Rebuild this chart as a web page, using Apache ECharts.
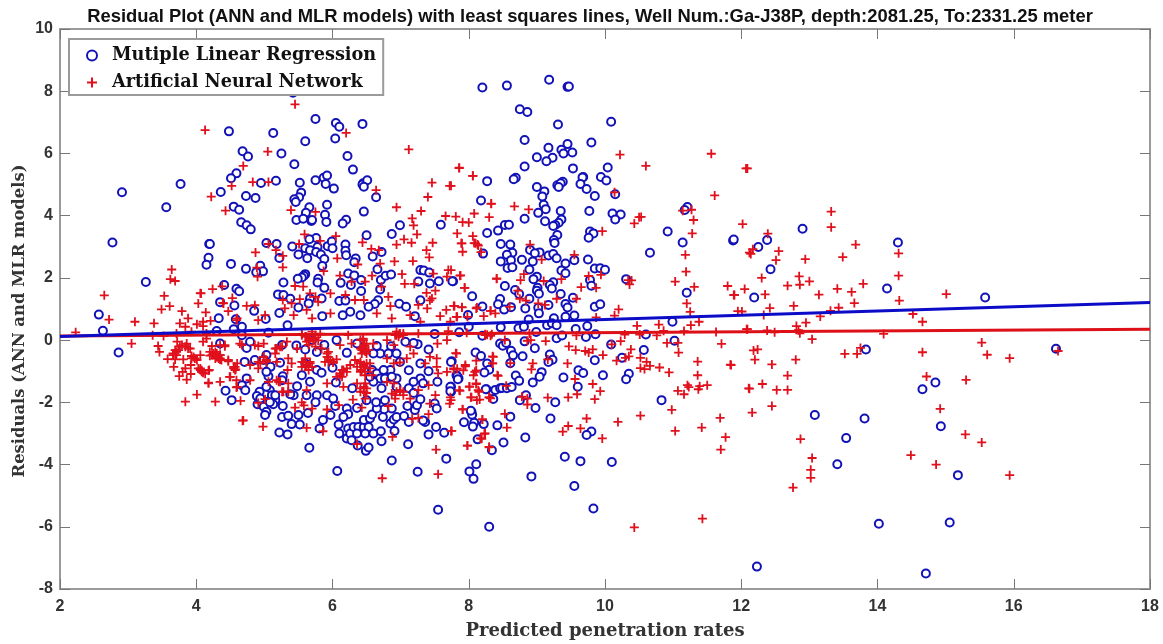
<!DOCTYPE html>
<html><head><meta charset="utf-8">
<style>html,body{margin:0;padding:0;background:#fff}#c{width:1163px;height:644px}</style>
<script src="https://cdn.jsdelivr.net/npm/echarts@6/dist/echarts.min.js"></script>
</head><body><div id="c"></div>
<script>
const chartTitle = 'Residual Plot (ANN and MLR models) with least squares lines, Well Num.:Ga-J38P, depth:2081.25, To:2331.25 meter';
const xAxisName = 'Predicted penetration rates';
const yAxisName = 'Residuals (ANN and MLR models)';
const mlrName = 'Mutiple Linear Regression';
const annName = 'Artificial Neural Network';
const mlrFit = [[2,0.12],[18,1.21]];
const annFit = [[2,0.13],[18,0.35]];
const mlrPoints = [
[5.42,7.95],[8.20,8.12],[8.56,8.18],[9.18,8.37],[9.45,8.14],[9.47,8.15],[8.75,7.42],[8.86,7.33],[9.31,6.93],[10.09,7.02],[8.82,6.43],[9.80,6.35],[9.17,6.18],[9.45,6.30],[9.36,6.12],[9.39,6.00],[9.52,6.03],[9.00,5.88],[9.23,5.86],[9.14,5.75],[8.82,5.58],[9.53,5.52],[10.04,5.55],[9.68,5.24],[9.67,5.23],[9.94,5.24],[10.02,5.13],[8.27,5.11],[8.69,5.22],[8.66,5.17],[9.38,5.09],[9.30,4.98],[9.35,5.04],[9.32,4.92],[9.64,5.02],[9.73,4.86],[9.00,4.92],[9.11,4.78],[9.08,4.62],[9.85,4.63],[10.15,4.69],[8.18,4.49],[9.10,4.35],[9.13,4.21],[9.02,4.09],[9.35,4.15],[9.77,4.15],[10.11,4.07],[10.23,4.04],[10.15,3.88],[8.82,3.90],[9.12,3.82],[9.36,3.88],[9.32,3.77],[9.27,3.70],[9.24,3.67],[8.53,3.70],[8.59,3.71],[8.43,3.52],[8.27,3.44],[9.30,3.38],[9.78,3.49],[9.83,3.43],[9.76,3.29],[9.25,3.22],[9.26,3.12],[10.92,3.49],[11.14,3.14],[11.21,4.28],[11.17,4.18],[11.88,3.20],[11.89,3.23],[10.66,2.81],[8.47,3.09],[8.61,3.07],[8.90,2.90],[8.64,2.81],[8.56,2.74],[9.04,2.82],[8.97,2.79],[8.21,2.78],[9.17,2.72],[9.24,2.77],[9.29,2.63],[8.47,2.53],[8.62,2.57],[8.78,2.58],[8.94,2.53],[9.55,2.57],[9.75,2.59],[9.42,2.46],[8.57,2.32],[8.64,2.34],[8.89,2.27],[9.85,2.30],[9.93,2.31],[10.00,2.26],[9.36,2.24],[9.42,2.15],[9.00,2.04],[8.95,1.96],[7.77,1.89],[9.78,1.93],[9.80,1.75],[10.31,1.96],[8.53,1.74],[9.24,1.86],[9.19,1.77],[9.22,1.66],[9.01,1.68],[9.00,1.59],[9.03,1.49],[8.68,1.61],[8.74,1.48],[8.05,1.41],[11.20,1.52],[9.35,1.48],[9.53,1.36],[8.89,1.33],[8.46,1.32],[8.43,1.15],[8.52,0.98],[9.42,1.16],[9.45,1.05],[9.85,1.07],[9.93,1.15],[8.20,1.08],[8.62,1.06],[8.83,1.02],[9.17,1.13],[9.02,1.04],[9.03,0.86],[7.99,0.81],[9.55,0.79],[9.42,0.75],[9.25,0.70],[8.88,0.66],
[7.86,0.25],[8.20,0.14],[8.47,0.41],[8.73,0.38],[8.81,0.43],[8.99,0.26],[9.15,0.48],[9.22,0.54],[9.29,0.48],[9.57,0.36],[9.74,0.45],[9.29,0.06],[9.37,0.15],[9.72,0.10],[9.86,0.19],[10.60,0.18],[11.02,-0.02],[10.99,0.59],[10.09,-0.14],[8.46,-0.11],[8.50,-0.18],[8.55,-0.09],[8.62,-0.34],[8.65,-0.49],[8.82,-0.04],[8.97,-0.26],[8.79,-0.52],[8.10,-0.40],[8.18,-0.51],[9.19,-0.46],[9.23,-0.63],[9.17,-0.70],[10.57,-0.32],[10.25,-0.57],[9.85,-0.65],[8.61,-0.74],[8.27,-0.75],[8.30,-0.95],[8.23,-1.04],[7.75,-0.68],[9.61,-0.97],[9.68,-1.06],[9.07,-1.03],[9.04,-1.18],[8.69,-1.14],[8.74,-1.31],[8.94,-1.36],[9.39,-1.20],[9.97,-1.13],[10.35,-1.08],[10.31,-1.26],[7.82,-1.13],[7.85,-1.23],[9.60,-1.50],[7.74,-1.50],[7.74,-1.66],[8.26,-1.58],[8.39,-1.60],[8.46,-1.55],[8.49,-1.54],[8.56,-1.55],[8.63,-1.51],[8.36,-1.89],[8.84,-1.77],[8.75,-1.93],[9.27,-2.00],[10.83,-1.93],[8.98,-2.18],[8.04,-2.30],[8.05,-2.40],[8.61,-2.46],[9.20,-2.52],[7.93,-2.64],[8.08,-2.66],[8.06,-2.78],[8.22,-2.70],[8.42,-2.74],[9.80,-2.94],[9.73,-3.05],[8.83,-3.13],[8.13,-3.19],[8.51,-3.29],[8.34,-3.54],[9.41,-3.75],[9.64,-3.89],[10.10,-3.92],[8.11,-3.99],[8.01,-4.22],[8.07,-4.46],[8.92,-4.38],[9.55,-4.69],[9.83,-5.41],[8.30,-6.00],
[12.25,2.99],[12.38,3.22],[12.90,3.58],[12.43,2.28],[12.19,1.37],[14.30,3.14],[14.14,1.66],[15.58,1.37],[13.83,-0.30],[13.08,-2.41],[13.81,-2.52],[13.54,-3.15],[13.41,-3.99],[14.02,-5.90],[15.06,-5.86],[12.23,-7.28],[14.71,-7.50],[14.66,-1.58],[14.85,-1.36],[14.93,-2.77],[15.18,-4.34],[16.62,-0.28],
[5.75,7.11],[6.05,6.98],[6.10,6.86],[6.44,6.95],[6.04,6.48],[5.60,6.39],[4.48,6.71],[5.13,6.66],[5.25,6.00],[4.68,6.07],[4.76,5.90],[6.22,5.92],[5.44,5.65],[6.30,5.48],[4.59,5.36],[4.51,5.20],[5.17,5.12],[4.95,5.05],[4.36,4.76],[5.52,5.06],[5.75,5.14],[5.87,5.22],[5.92,5.29],[5.90,5.02],[6.02,4.87],[6.45,5.04],[6.44,5.00],[6.51,5.14],[6.46,4.93],[6.64,4.59],[5.54,4.74],[5.51,4.59],[5.44,4.53],[5.46,4.44],[4.73,4.63],[4.87,4.57],[4.55,4.29],[4.63,4.19],[5.66,4.27],[5.92,4.35],[5.61,4.09],[6.46,4.13],[5.89,4.03],[5.69,3.83],[5.70,3.86],[5.47,3.86],[5.57,3.90],[5.91,3.80],[6.20,3.87],[6.15,3.75],[4.66,3.79],[4.74,3.69],[4.80,3.56],[6.99,3.69],[7.59,3.71],[6.87,3.41],[6.50,3.37],[5.76,3.28],[5.66,3.24],[5.03,3.12],[5.18,3.09],[4.19,3.09],[4.20,3.09],[5.41,3.01],[5.60,2.95],[5.78,2.99],[5.93,3.02],[5.99,3.17],[6.00,2.95],[6.19,3.07],[6.19,2.87],[6.20,2.73],[6.34,2.62],[6.32,2.50],[5.67,2.89],[5.76,2.83],[5.83,2.75],[5.50,2.75],[5.63,2.63],[5.88,2.61],[5.22,2.64],[6.59,2.69],[6.72,2.83],[4.18,2.65],[4.15,2.42],[4.51,2.45],[4.73,2.29],[4.94,2.39],[4.98,2.21],[4.88,2.18],[5.85,2.38],[6.66,2.28],[7.29,2.25],[7.34,2.24],[7.42,2.17],[6.23,2.14],[6.32,2.08],[6.42,1.93],[6.71,1.93],[6.78,2.07],[6.86,2.11],[5.60,2.12],[5.58,2.07],[5.55,2.01],[5.49,1.97],[5.79,1.97],[5.78,1.85],[6.12,1.84],[6.27,1.77],[5.88,1.68],[5.28,1.85],[7.26,1.88],[7.43,1.82],[7.56,1.89],[7.76,1.89],[6.70,1.63],[6.42,1.58],[4.41,1.77],[4.59,1.65],[4.63,1.57],[5.20,1.47],[5.28,1.45],[5.38,1.33],[5.67,1.34],[5.84,1.34],[4.35,1.22],[4.56,1.11],[4.85,0.94],[5.22,0.87],[5.50,1.05],[5.65,1.18],[6.10,1.26],[6.19,1.27],[6.67,1.28],[6.62,1.16],[6.53,1.07],[6.98,1.17],[7.08,1.07],[7.29,1.28],[7.21,0.77],[6.41,0.80],[6.26,0.91],[6.15,0.80],[5.85,0.77],[4.33,0.70],[4.58,0.67],[5.02,0.68],[2.91,4.75],[3.77,5.02],[3.56,4.27],[2.77,3.14],[3.26,1.87],[2.57,0.82],[2.63,0.30],[2.86,-0.40],
[4.30,0.29],[4.55,0.35],[4.67,0.43],[5.06,0.24],[5.34,0.48],[4.67,0.16],[7.50,0.20],[8.00,0.43],[4.35,-0.11],[4.74,-0.25],[4.79,-0.05],[5.26,-0.16],[5.47,-0.17],[5.60,-0.30],[5.77,-0.38],[5.88,-0.16],[5.70,0.00],[6.21,-0.41],[6.06,0.00],[6.36,-0.11],[6.65,-0.19],[6.86,-0.20],[7.07,-0.05],[7.25,-0.13],[7.19,-0.09],[7.41,-0.30],[5.03,-0.48],[4.99,-0.64],[4.71,-0.70],[4.86,-0.64],[5.23,-0.73],[5.60,-0.75],[5.77,-0.96],[5.84,-1.05],[6.00,-0.89],[6.70,-0.43],[6.60,-0.43],[6.82,-0.43],[6.94,-0.43],[6.99,-0.70],[7.12,-0.97],[7.29,-0.75],[7.41,-1.00],[7.74,-0.70],[5.09,-0.86],[5.06,-1.16],[5.03,-1.02],[4.74,-1.23],[4.67,-1.45],[4.72,-1.61],[4.43,-1.63],[4.52,-1.93],[5.27,-1.16],[5.26,-1.29],[5.55,-1.13],[5.67,-1.34],[5.48,-1.48],[5.43,-1.77],[5.38,-1.74],[5.08,-1.61],[5.01,-1.74],[4.93,-1.66],[4.89,-1.80],[4.90,-2.06],[4.99,-2.14],[5.16,-1.93],[5.13,-2.06],[5.27,-2.12],[5.03,-2.30],[5.01,-2.41],[5.26,-2.47],[5.35,-2.43],[5.50,-2.41],[5.64,-2.34],[5.40,-2.70],[5.52,-2.71],[5.22,-2.97],[5.34,-3.03],[5.66,-3.46],[5.81,-2.84],[5.86,-2.57],[5.97,-2.41],[6.04,-2.12],[5.92,-1.77],[5.77,-1.77],[5.75,-2.00],[5.62,-1.77],[6.01,-1.88],[6.29,-1.55],[6.05,-1.36],[6.21,-2.20],[6.36,-2.18],[6.23,-2.38],[6.16,-2.47],[6.09,-2.71],[6.10,-3.00],[6.23,-2.84],[6.21,-3.16],[6.26,-3.00],[6.31,-2.79],[6.38,-2.79],[6.46,-2.79],[6.53,-2.79],[6.48,-3.00],[6.36,-3.00],[6.28,-3.22],[6.37,-3.39],[6.49,-3.56],[6.53,-3.45],[6.60,-3.00],[6.71,-2.93],[6.72,-3.25],[6.91,-2.92],[6.85,-2.68],[6.46,-2.57],[6.55,-2.52],[6.58,-2.39],[6.74,-2.47],[6.90,-2.55],[6.94,-2.47],[7.12,-2.63],[7.05,-2.44],[7.21,-2.25],[7.10,-2.12],[7.24,-2.09],[7.29,-1.90],[6.87,-2.20],[6.76,-2.22],[6.65,-2.20],[6.77,-1.93],[6.64,-2.00],[6.50,-1.93],[6.72,-1.55],[6.94,-1.50],[7.12,-1.55],[7.19,-1.70],[6.58,-0.96],[6.75,-1.13],[6.85,-0.96],[6.94,-1.23],[7.29,-1.23],[7.33,-1.39],[7.19,-1.34],[7.36,-2.63],[7.33,-2.58],[7.52,-2.79],[7.41,-3.03],[7.64,-2.98],[7.11,-3.35],[6.87,-3.87],[7.25,-4.23],[6.07,-4.21],[7.67,-3.81],[7.54,-1.34],[7.73,-1.50],[7.73,-1.64],[7.50,-2.04],[7.53,-2.20],[7.83,-1.16],[7.84,-1.26],[8.03,-2.27],[8.25,-1.58],[7.55,-5.45],
[6.65,-1.07],[6.75,-0.96],[6.70,-1.23],[6.77,-1.23],[6.87,-1.18],[6.60,-1.34],[6.55,-1.18],[5.03,-1.50],[5.11,-1.77],[5.16,-1.77],[5.08,-2.00],[4.94,-1.88]
];
const annPoints = [
[10.22,5.96],[10.60,5.60],[11.56,5.99],[12.07,5.52],[12.09,5.52],[11.61,4.65],[7.86,5.54],[8.06,5.28],[7.74,4.96],[8.33,4.38],[8.67,4.30],[8.88,4.20],[7.81,3.97],[8.08,4.07],[8.30,3.95],[7.91,3.79],[8.00,3.78],[10.14,4.75],[10.50,3.95],[10.53,3.96],[10.43,3.75],[9.96,3.50],[7.83,3.43],[8.06,3.34],[7.90,3.11],[8.08,3.12],[8.13,3.07],[7.91,2.84],[8.18,2.83],[8.90,3.07],[9.55,2.74],[9.07,2.59],[11.14,4.16],[11.27,4.19],[11.30,3.86],[11.28,3.43],[11.18,2.74],[12.02,3.73],[12.12,2.81],[11.19,2.20],[7.74,2.25],[7.88,2.08],[8.41,1.98],[8.76,1.93],[8.81,2.12],[9.10,1.90],[9.36,1.96],[9.76,2.06],[9.94,2.10],[10.34,1.93],[10.36,1.79],[10.39,1.92],[11.03,1.88],[11.31,1.71],[11.80,1.74],[11.89,1.45],[12.05,1.64],[7.94,1.68],[9.65,1.70],[9.87,1.68],[8.72,1.59],[8.75,1.33],[8.84,1.27],[9.29,1.33],[9.58,1.33],[9.02,1.18],[9.12,1.13],[7.79,1.10],[7.90,1.06],[8.11,1.02],[8.32,0.94],[8.60,1.07],[11.20,1.18],[11.25,0.91],[11.95,0.93],[10.20,0.99],[10.14,0.79],[8.22,0.77],[7.82,0.75],[7.98,0.75],[9.87,0.73],
[10.47,0.46],[10.79,0.50],[11.26,0.48],[11.38,0.59],[12.08,0.35],[10.86,0.30],[11.16,0.29],[11.63,0.26],[10.76,0.15],[10.51,0.18],[10.29,0.18],[8.27,0.17],[8.24,0.19],[8.32,0.14],[8.89,0.21],[8.86,-0.02],[8.91,0.00],[8.53,0.00],[9.13,-0.03],[9.58,0.15],[10.23,-0.03],[10.91,-0.09],[11.07,-0.09],[11.71,-0.12],[9.47,-0.20],[9.57,-0.32],[9.71,-0.35],[9.76,-0.40],[9.82,-0.30],[9.97,-0.48],[10.10,-0.14],[10.38,-0.30],[11.08,-0.40],[7.81,-0.42],[8.35,-0.52],[10.35,-0.52],[10.30,-0.57],[10.17,-0.66],[10.52,-0.57],[8.11,-0.66],[8.35,-0.75],[8.61,-0.74],[8.94,-0.75],[8.92,-0.94],[9.16,-0.62],[9.45,-0.75],[11.36,-0.69],[11.84,-0.79],[11.36,-1.13],[10.94,-1.04],[10.80,-0.88],[10.66,-0.83],[10.61,-0.70],[10.58,-0.93],[10.52,-0.90],[7.78,-0.94],[7.95,-0.84],[7.92,-0.97],[8.11,-0.97],[8.07,-1.13],[8.43,-1.15],[9.56,-1.25],[9.82,-1.41],[9.93,-1.64],[9.59,-1.74],[9.85,-1.90],[9.46,-1.84],[9.16,-1.85],[8.01,-1.49],[8.11,-1.41],[7.86,-1.61],[8.15,-1.66],[8.04,-1.84],[8.12,-1.93],[7.74,-1.93],[8.30,-1.84],[8.55,-1.47],[8.78,-1.82],[8.86,-1.88],[8.86,-2.07],[11.07,-1.63],[11.16,-1.74],[11.21,-1.45],[11.23,-1.51],[11.37,-1.58],[11.39,-1.48],[11.50,-1.45],[12.11,-1.55],[10.98,-2.24],[10.52,-2.43],[10.19,-2.63],[9.73,-2.52],[11.69,-2.50],[11.42,-2.81],[11.03,-2.92],[11.77,-3.12],[11.70,-3.52],[7.91,-2.23],[8.53,-2.37],[8.20,-2.55],[8.56,-2.81],[7.75,-2.92],[9.46,-2.76],[9.38,-2.94],[9.64,-2.84],[9.96,-3.16],[8.23,-3.01],[8.19,-3.17],[7.98,-3.39],[8.30,-3.43],[10.43,-6.02],[11.43,-5.74],
[13.32,4.13],[13.32,3.63],[12.39,3.42],[12.55,2.86],[12.14,2.77],[12.17,2.92],[12.51,2.57],[12.94,2.60],[13.68,3.07],[13.49,2.67],[14.31,2.79],[14.31,2.07],[13.79,1.81],[12.30,2.00],[12.85,2.05],[13.00,1.89],[12.68,1.75],[12.86,1.78],[13.41,1.65],[13.62,1.55],[11.90,1.45],[12.35,1.47],[13.14,1.46],[13.66,1.19],[14.32,1.27],[15.01,1.48],[12.77,1.10],[12.42,1.03],[13.43,1.04],[13.31,0.94],[12.01,0.92],[12.33,0.81],[13.16,0.76],[14.52,0.84],[14.66,0.59],[12.95,0.56],[12.81,0.45],[12.09,0.35],[12.38,0.31],[12.49,0.25],[12.84,0.32],[12.86,0.22],[14.09,0.20],[13.04,0.03],[15.53,-0.08],[15.61,-0.47],[15.94,-0.58],[15.30,-1.28],[14.66,-0.39],[13.75,-0.25],[13.70,-0.44],[13.52,-0.44],[12.18,-0.33],[12.24,-0.30],[12.20,-0.63],[12.45,-0.78],[12.80,-0.63],[11.85,-0.80],[12.68,-1.14],[12.31,-1.41],[12.12,-1.56],[12.52,-1.60],[12.68,-1.60],[12.45,-2.12],[12.16,-2.33],[12.87,-3.18],[13.04,-3.79],[13.02,-4.17],[13.02,-4.43],[12.76,-4.74],[14.72,-1.17],[14.92,-2.21],[15.29,-3.03],[15.53,-3.29],[14.49,-3.70],[14.86,-4.00],[15.94,-4.34],[16.65,-0.35],
[2.23,0.25],[2.72,0.66],[3.10,0.59],[3.38,0.54],[3.05,-0.11],[3.49,0.99],[3.61,1.09],[4.03,1.18],[3.79,0.93],[3.88,0.70],[4.14,0.89],[3.76,0.54],[3.84,0.43],[4.01,0.51],[4.10,0.59],[4.10,0.45],[4.21,0.62],[3.93,0.27],[4.15,0.21],[3.71,0.21],[3.52,0.13],[3.36,0.16],[3.72,-0.05],[4.10,-0.05],[4.15,0.05],[3.44,-0.19],[3.46,-0.38],[3.76,-0.21],[3.84,-0.21],[3.91,-0.27],[3.71,-0.38],[3.66,-0.48],[3.58,-0.61],[3.69,-0.62],[3.81,-0.62],[3.93,-0.51],[3.98,-0.59],[4.06,-0.48],[3.67,-0.86],[3.84,-0.91],[3.92,-0.80],[3.80,-1.02],[3.92,-1.09],[3.75,-1.16],[3.86,-1.27],[4.06,-0.96],[4.10,-1.05],[4.19,-0.96],[4.18,-1.39],[4.35,-1.34],[4.01,-1.75],[3.84,-1.98],[4.28,-1.98],[4.65,-1.95],[4.68,-2.59],[4.25,-0.43],[4.35,-0.59],[4.30,-0.48],[4.35,-0.16],[4.42,-0.16],[4.47,-0.68],[4.55,-0.86],[4.58,-0.94],[4.49,-1.18],[4.59,-1.29],[4.59,-1.52],[4.79,-0.80],[4.67,-0.16],[4.86,-0.16],[4.47,0.93],[4.74,1.10],[4.59,0.64],[4.91,0.64],[4.40,1.18],[4.86,1.12],[4.79,-1.29],[4.91,-0.91],
[4.13,6.75],[4.69,5.60],[4.83,5.08],[4.52,4.96],[4.22,4.61],[4.43,4.16],[4.87,2.82],[4.89,2.33],[3.64,2.27],[3.62,1.96],[3.69,1.90],[2.65,1.44],[3.53,1.42],[4.06,1.51],[4.24,1.64],[4.38,1.73],[4.53,1.35],[4.39,1.20],
[5.45,7.58],[6.20,6.66],[7.12,6.13],[5.05,6.06],[7.86,5.53],[8.06,5.28],[5.06,5.08],[7.46,5.06],[7.72,4.96],[6.64,4.82],[7.40,4.60],[8.33,4.39],[5.39,4.18],[5.75,4.12],[6.94,4.27],[7.30,4.15],[7.17,3.91],[7.19,3.69],[7.66,3.99],[7.24,3.40],[7.05,3.24],[7.16,3.13],[6.94,3.07],[7.47,3.13],[8.10,3.11],[7.89,3.11],[8.14,3.04],[7.38,2.89],[7.42,2.66],[7.18,2.54],[6.91,2.53],[6.70,2.46],[6.57,2.93],[6.68,2.89],[6.44,3.14],[6.05,3.34],[5.82,3.19],[5.59,3.40],[5.51,3.09],[5.06,3.09],[5.17,2.89],[5.27,2.71],[6.07,2.63],[5.27,2.34],[4.90,2.04],[6.37,2.43],[5.87,2.22],[6.11,2.07],[6.58,2.07],[7.02,2.12],[7.70,2.25],[7.87,2.07],[7.68,2.04],[7.48,2.14],[8.41,1.97],[7.06,1.81],[7.20,1.81],[7.94,1.68],[6.72,1.72],[6.48,1.88],[6.28,1.88],[5.57,1.72],[5.45,1.74],[4.07,1.50],[5.67,1.50],[5.75,1.39],[5.97,1.50],[6.19,1.45],[6.82,1.39],[7.38,1.52],[7.51,1.59],[7.46,1.34],[7.43,1.28],[5.27,1.29],[5.52,1.32],[5.79,1.23],[6.33,1.29],[6.46,1.29],[6.85,1.09],[7.26,1.13],[7.39,1.02],[7.78,1.10],[7.90,1.05],[8.12,1.05],[7.67,0.97],[8.32,0.94],[5.30,1.02],[5.62,0.97],[5.40,1.18],[7.58,0.77],[7.83,0.75],[8.39,0.86],[7.14,0.80],[6.87,0.70],[6.65,0.86],[5.97,0.86],[5.01,0.80],[5.43,0.80],[5.70,0.70],[4.60,0.70],
[5.55,0.20],[5.60,0.12],[5.67,0.05],[5.72,0.00],[5.75,0.07],[5.62,-0.05],[6.28,-0.11],[6.45,0.05],[6.47,-0.16],[6.43,-0.32],[6.50,-0.43],[6.98,0.20],[6.94,0.16],[7.04,0.21],[4.25,-0.45],[4.32,-0.55],[4.20,-0.50],[4.35,-0.62],[4.08,-0.97],[4.18,-0.98],[4.13,-1.08],[4.18,-1.37],[4.69,-2.58],[4.98,-2.78],[5.62,-2.82],[5.86,-2.93],[6.88,-3.11],[6.36,-3.34],[7.52,-3.52],[6.73,-4.44],[7.55,-4.31],[7.98,-3.39],[8.30,-3.45],[8.24,-3.00],[8.17,-3.16],[8.20,-2.55],[7.74,-2.92],[8.30,-1.84],[8.32,-1.87],[8.16,-1.91],[8.03,-1.84],[7.72,-2.04],[7.73,-1.84],[7.51,-1.77],[7.43,-2.04],[7.91,-2.22],[7.41,-2.38],[7.26,-2.50],[7.17,-2.53],[7.87,-1.63],[8.01,-1.50],[8.11,-1.39],[8.14,-1.61],[8.42,-1.13],[8.36,-0.54],[8.35,-0.75],[7.95,-0.80],[7.78,-0.91],[7.68,-1.02],[7.83,-0.92],[8.09,-1.02],[7.55,-1.07],[7.53,-0.86],[7.53,-0.59],[7.43,-0.54],[7.36,-0.75],[7.82,-0.43],[7.54,-0.11],[7.68,0.00],[7.70,0.29],[7.29,0.59],[7.73,0.59],[8.24,0.16],[8.34,0.19],[7.97,0.24],[7.26,0.21],
[4.64,-0.11],[4.91,-0.19],[4.99,-0.11],[5.16,-0.27],[5.23,-0.21],[5.33,-0.05],[5.48,-0.27],[5.65,-0.15],[5.75,-0.21],[5.94,-0.38],[5.92,-0.54],[5.84,-0.27],[6.11,-0.16],[6.23,0.16],[6.41,0.00],[6.46,-0.27],[6.60,-0.11],[6.80,0.00],[6.90,-0.16],[7.14,-0.21],[4.42,-0.20],[4.23,-0.19],[4.28,-0.38],[4.47,-0.64],[4.57,-0.86],[4.94,-0.75],[5.03,-0.70],[4.99,-0.54],[5.18,-0.70],[5.35,-0.59],[5.34,-0.96],[5.40,-0.75],[5.55,-0.70],[5.60,-0.86],[5.67,-0.75],[5.94,-0.70],[6.01,-0.70],[6.06,-0.62],[6.14,-0.96],[6.11,-1.13],[6.21,-1.02],[6.33,-0.64],[6.41,-0.75],[6.46,-0.86],[6.55,-0.75],[6.41,-1.02],[6.48,-1.02],[6.58,-1.13],[6.90,-0.75],[6.99,-0.72],[6.80,-0.59],[7.09,-0.59],[7.19,-0.43],[4.50,-1.18],[4.60,-1.50],[5.06,-1.34],[5.21,-1.34],[5.35,-1.39],[5.26,-1.66],[5.35,-1.66],[5.62,-1.61],[5.92,-1.39],[6.16,-1.50],[6.36,-1.39],[6.46,-1.50],[6.41,-1.66],[6.50,-1.70],[6.48,-1.88],[6.80,-1.34],[6.90,-1.39],[6.99,-1.66],[6.87,-1.72],[7.04,-1.77],[6.92,-1.88],[7.26,-1.61],[7.41,-1.45],[7.14,-1.88],[6.30,-1.91],[6.09,-2.09],[5.45,-2.17],[5.55,-2.00],[5.58,-2.10],[5.70,-2.20],[5.92,-2.23],[6.43,-2.17],[6.82,-2.12],[4.91,-2.02],[5.01,-1.90],
[5.72,0.01],[5.62,0.11],[5.75,0.16],[5.65,-0.04],[5.70,0.27],[5.79,-0.01],[5.55,0.16],[5.82,0.21],[6.45,-0.21],[6.43,-0.43],[6.48,-0.37],[6.41,-0.27],[6.50,-0.11],[6.45,0.00],[6.53,-0.32],[4.25,-0.48],[4.33,-0.59],[4.30,-0.43],[4.20,-0.38],[4.28,-0.59],[4.35,-0.48],[6.99,0.21],[6.94,0.27],[7.04,0.16],[6.92,0.16],[6.97,0.11],[5.57,-0.70],[5.62,-0.80],[5.67,-0.70],[5.55,-0.86],[5.70,-0.86],[5.60,-0.59],[5.65,-0.96],[5.92,-0.43],[5.97,-0.64],[6.01,-0.72],[5.89,-0.70],[5.94,-0.54],[6.16,-0.96],[6.11,-1.07],[6.21,-0.91],[6.06,-1.18],[6.26,-0.80],[6.14,-1.18],[6.41,-0.70],[6.46,-0.80],[6.36,-0.86],[6.50,-0.75],[6.43,-0.96],[6.55,-0.91],[6.48,-1.13],[6.50,-1.55],[6.46,-1.66],[6.41,-1.55],[6.48,-1.39],[6.94,-1.66],[6.99,-1.61],[6.92,-1.77],[7.04,-1.66],[4.99,-0.54],[5.03,-0.64],[4.91,-0.70],[5.18,-0.27],[5.26,-0.21],[5.16,-0.43],[5.23,-1.34],[5.18,-1.29],[5.35,-1.66],[5.28,-1.66],[4.60,-0.75],[4.55,-0.91],[4.57,-0.96],[3.66,-0.43],[3.71,-0.48],[3.74,-0.32],[3.69,-0.32],[3.79,-0.16],[3.86,-0.11],[3.88,-0.27],[3.96,-0.54],[4.01,-0.64],[3.93,-0.59],[4.03,-0.91],[4.08,-1.02],[4.06,-0.91],[4.30,-0.54],[4.35,-0.48],[4.37,-0.64],[4.23,-0.48]
];

const chart = echarts.init(document.getElementById('c'), null, {renderer:'canvas'});
const plusPath = 'path://M8,0H12V8H20V12H12V20H8V12H0V8H8Z';
const blue = '#1212B8', red = '#E0101C';
const axisGrey = '#9a9a9a', tickGrey = '#777777';
const serif = '"DejaVu Serif","Liberation Serif",serif';
const sans = '"Liberation Sans",Arial,sans-serif';
function xa(pos, show){return {type:'value',position:pos,min:2,max:18,interval:2,scale:false,
  name: show?xAxisName:'',nameLocation:'middle',nameGap:33,nameMoveOverlap:false,
  nameTextStyle:{fontFamily:serif,fontWeight:'bold',fontSize:18,color:'#333'},
  axisLine:{show:true,onZero:false,lineStyle:{color:axisGrey,width:2}},
  axisTick:{show:true,inside:true,length:10,lineStyle:{color:tickGrey,width:1}},
  axisLabel:{show:show,color:'#333',fontFamily:sans,fontWeight:'bold',fontSize:16,margin:10},
  splitLine:{show:false}};}
function ya(pos, show){return {type:'value',position:pos,min:-8,max:10,interval:2,
  name: show?yAxisName:'',nameLocation:'middle',nameGap:32,nameRotate:90,nameMoveOverlap:false,
  nameTextStyle:{fontFamily:serif,fontWeight:'bold',fontSize:16.4,color:'#333',padding:[0,24,0,0]},
  axisLine:{show:true,onZero:false,lineStyle:{color:axisGrey,width:2}},
  axisTick:{show:true,inside:true,length:10,lineStyle:{color:tickGrey,width:1}},
  axisLabel:{show:show,color:'#333',fontFamily:sans,fontWeight:'bold',fontSize:16,margin:7},
  splitLine:{show:false}};}
chart.setOption({
  animation:false,
  backgroundColor:'#fff',
  title:{text:chartTitle,left:590,textAlign:'center',top:8,padding:0,
    textStyle:{fontFamily:sans,fontWeight:'bold',fontSize:18.4,color:'#111'}},
  grid:{left:60,right:13,top:29,bottom:55,containLabel:false,outerBoundsMode:'none'},
  xAxis:[xa('bottom',true),xa('top',false)],
  yAxis:[ya('left',true),ya('right',false)],
  legend:{left:69,top:39,orient:'vertical',padding:[5,7,1,17],itemGap:4,itemWidth:30,itemHeight:10,
    backgroundColor:'#fff',borderColor:'#9a9a9a',borderWidth:2,
    data:[mlrName,annName],
    textStyle:{fontFamily:serif,fontWeight:'bold',fontSize:17.7,color:'#111',lineHeight:23}},
  series:[
    {name:mlrName,type:'scatter',data:mlrPoints,symbol:'emptyCircle',symbolSize:8,z:2,
     itemStyle:{color:blue,borderColor:blue,borderWidth:2,opacity:1}},
    {name:annName,type:'scatter',data:annPoints,symbol:plusPath,symbolSize:9,z:3,
     itemStyle:{color:red,opacity:1}},
    {name:'MLR fit',type:'line',data:mlrFit,symbol:'none',z:5,silent:true,lineStyle:{color:'#0C0CC8',width:3}},
    {name:'ANN fit',type:'line',data:annFit,symbol:'none',z:4,silent:true,lineStyle:{color:'#DD1018',width:3}}
  ]
});
</script></body></html>
